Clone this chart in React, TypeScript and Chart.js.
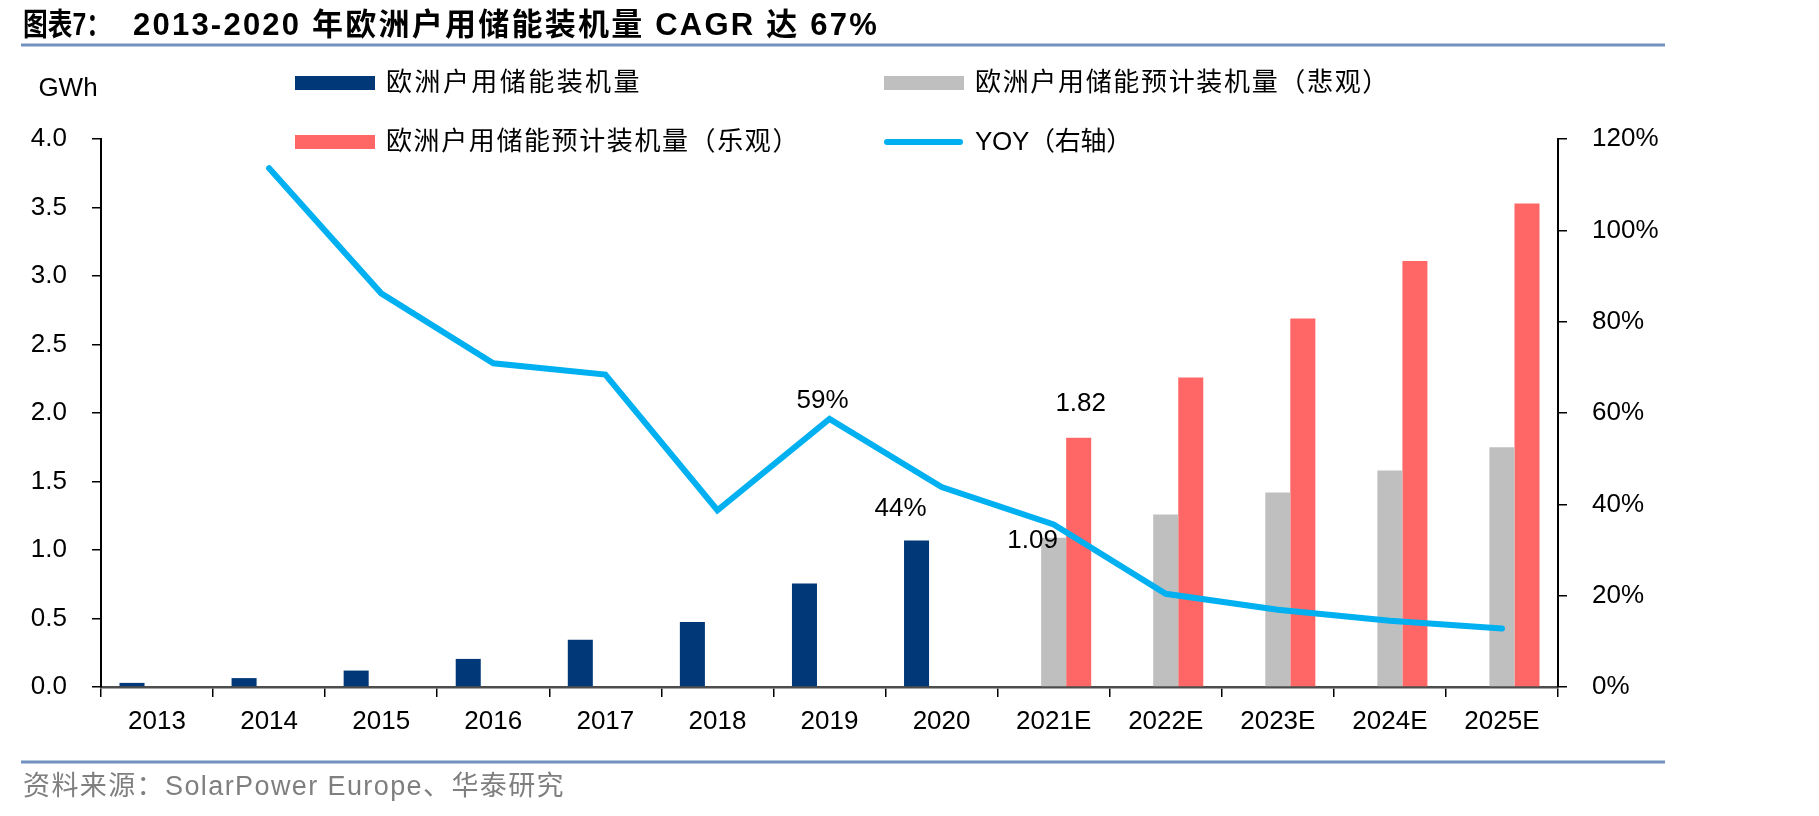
import React, { useEffect, useRef } from "react";
import { Chart, registerables } from "chart.js";

Chart.register(...registerables);

// ---- data ----
const categories = ["2013", "2014", "2015", "2016", "2017", "2018", "2019", "2020", "2021E", "2022E", "2023E", "2024E", "2025E"];
const installed = [0.03, 0.065, 0.12, 0.205, 0.345, 0.475, 0.755, 1.07, null, null, null, null, null];
const forecastPessimistic = [null, null, null, null, null, null, null, null, 1.09, 1.26, 1.42, 1.58, 1.75];
const forecastOptimistic = [null, null, null, null, null, null, null, null, 1.82, 2.26, 2.69, 3.11, 3.53];
const yoyPercent = [null, 113.6, 86.2, 70.9, 68.4, 38.7, 58.7, 43.8, 35.6, 20.4, 16.9, 14.5, 12.8];

const leftTicks = [0, 0.5, 1.0, 1.5, 2.0, 2.5, 3.0, 3.5, 4.0];
const rightTicks = [0, 20, 40, 60, 80, 100, 120];

const seriesNames = [
  "欧洲户用储能装机量",
  "欧洲户用储能预计装机量（悲观）",
  "欧洲户用储能预计装机量（乐观）",
  "YOY（右轴）",
];

const titlePrefix = "图表7：";
const titleText = "2013-2020 年欧洲户用储能装机量 CAGR 达 67%";
const sourceText = "资料来源：SolarPower Europe、华泰研究";
const leftUnit = "GWh";

const COLORS = {
  installed: "#003878",
  pessimistic: "#BFBFBF",
  optimistic: "#FF6666",
  yoy: "#00B0F0",
  rule: "#7391C0",
  source: "#7F7F7F",
};

const LATIN = "'Liberation Sans', Arial, sans-serif";
const MIXED = "'Liberation Sans', 'Noto Sans CJK SC', sans-serif";

// draw text stretched to a given width by adjusting letter spacing
function fitText(ctx: CanvasRenderingContext2D, text: string, x: number, y: number, width: number) {
  (ctx as any).letterSpacing = "0px";
  const w = ctx.measureText(text).width;
  const n = Array.from(text).length;
  const sp = n > 1 ? (width - w) / n : 0;
  (ctx as any).letterSpacing = `${sp}px`;
  ctx.fillText(text, x, y);
  (ctx as any).letterSpacing = "0px";
}

// draw text horizontally condensed to a given width
function squeezeText(ctx: CanvasRenderingContext2D, text: string, x: number, y: number, width: number) {
  const w = ctx.measureText(text).width;
  ctx.save();
  ctx.translate(x, y);
  ctx.scale(Math.min(1, width / w), 1);
  ctx.fillText(text, 0, 0);
  ctx.restore();
}

const decorPlugin = {
  id: "decor",
  beforeDraw(chart: any) {
    const ctx = chart.ctx;
    ctx.save();
    ctx.fillStyle = "#ffffff";
    ctx.fillRect(0, 0, chart.width, chart.height);
    ctx.restore();
  },
  afterDatasetsDraw(chart: any) {
    const ctx = chart.ctx;
    ctx.save();
    ctx.font = `26px ${LATIN}`;
    ctx.fillStyle = "#000";
    ctx.textAlign = "center";
    ctx.textBaseline = "middle";
    const lineMeta = chart.getDatasetMeta(3);
    const grayMeta = chart.getDatasetMeta(1);
    const redMeta = chart.getDatasetMeta(2);
    // YOY labels for 2019 and 2020
    const p19 = lineMeta.data[6];
    ctx.fillText(`${Math.round(yoyPercent[6] as number)}%`, p19.x - 7, p19.y - 18);
    const p20 = lineMeta.data[7];
    ctx.fillText(`${Math.round(yoyPercent[7] as number)}%`, p20.x - 41, p20.y + 22);
    // 2021E forecast labels
    const g21 = grayMeta.data[8];
    ctx.fillText((forecastPessimistic[8] as number).toFixed(2), g21.x - 21, g21.y + 3);
    const r21 = redMeta.data[8];
    ctx.fillText((forecastOptimistic[8] as number).toFixed(2), r21.x + 2, r21.y - 34);
    ctx.restore();
  },
  afterDraw(chart: any) {
    const ctx = chart.ctx;
    ctx.save();

    // title
    ctx.fillStyle = "#000";
    ctx.textBaseline = "alphabetic";
    ctx.textAlign = "left";
    ctx.font = `bold 31px ${MIXED}`;
    squeezeText(ctx, titlePrefix, 23, 35, 88);
    fitText(ctx, titleText, 133, 35, 746);

    // rules
    ctx.strokeStyle = COLORS.rule;
    ctx.lineWidth = 3;
    ctx.beginPath();
    ctx.moveTo(21, 45);
    ctx.lineTo(1665, 45);
    ctx.moveTo(21, 762);
    ctx.lineTo(1665, 762);
    ctx.stroke();

    // source
    ctx.fillStyle = COLORS.source;
    ctx.font = `27px ${MIXED}`;
    ctx.textBaseline = "middle";
    fitText(ctx, sourceText, 23, 788, 542);

    // unit
    ctx.fillStyle = "#000";
    ctx.font = `26px ${LATIN}`;
    ctx.textAlign = "center";
    ctx.fillText(leftUnit, 68, 89);

    // legend
    ctx.textAlign = "left";
    ctx.font = `26px ${MIXED}`;
    const ds = chart.data.datasets;
    const slots = [
      { i: 0, x: 295, y: 83 },
      { i: 1, x: 884, y: 83 },
      { i: 2, x: 295, y: 142 },
      { i: 3, x: 884, y: 142 },
    ];
    const textWidths = [256, 415, 414, 157];
    slots.forEach((s, k) => {
      const d = ds[s.i];
      if (d.type === "line") {
        ctx.strokeStyle = d.borderColor;
        ctx.lineWidth = 6;
        ctx.lineCap = "round";
        ctx.beginPath();
        ctx.moveTo(s.x + 3, s.y);
        ctx.lineTo(s.x + 76, s.y);
        ctx.stroke();
      } else {
        ctx.fillStyle = d.backgroundColor;
        ctx.fillRect(s.x, s.y - 7, 80, 14);
      }
      ctx.fillStyle = "#000";
      fitText(ctx, d.label, s.x + 91, s.y + 1, textWidths[k]);
    });

    ctx.restore();
  },
};

export default function App() {
  const ref = useRef<HTMLCanvasElement | null>(null);

  useEffect(() => {
    if (!ref.current) return;
    const chart = new Chart(ref.current, {
      type: "bar",
      data: {
        labels: categories,
        datasets: [
          {
            type: "bar",
            label: seriesNames[0],
            data: installed,
            backgroundColor: COLORS.installed,
            yAxisID: "y",
            order: 1,
          },
          {
            type: "bar",
            label: seriesNames[1],
            data: forecastPessimistic,
            backgroundColor: COLORS.pessimistic,
            yAxisID: "y",
            order: 1,
          },
          {
            type: "bar",
            label: seriesNames[2],
            data: forecastOptimistic,
            backgroundColor: COLORS.optimistic,
            yAxisID: "y",
            order: 1,
          },
          {
            type: "line",
            label: seriesNames[3],
            data: yoyPercent,
            borderColor: COLORS.yoy,
            backgroundColor: COLORS.yoy,
            borderWidth: 6,
            pointRadius: 0,
            tension: 0,
            borderCapStyle: "round",
            borderJoinStyle: "miter",
            yAxisID: "y1",
            order: 0,
          } as any,
        ],
      },
      options: {
        responsive: false,
        animation: false,
        devicePixelRatio: 1,
        datasets: {
          bar: { categoryPercentage: 0.67, barPercentage: 1.0 },
        },
        layout: { padding: { top: 139, left: 0, right: 0, bottom: 0 } },
        plugins: {
          legend: { display: false },
          title: { display: false },
          tooltip: { enabled: false },
        },
        scales: {
          x: {
            offset: true,
            grid: {
              display: true,
              offset: true,
              drawOnChartArea: false,
              drawTicks: true,
              tickLength: 10,
              color: "#000",
              lineWidth: 1.5,
            },
            border: { display: true, color: "#4D4D4D", width: 2.5 },
            ticks: {
              font: { family: LATIN, size: 26 },
              color: "#000",
              padding: 9,
              maxRotation: 0,
              autoSkip: false,
            },
            afterFit: (s: any) => {
              s.height = 129;
            },
          },
          y: {
            position: "left",
            min: leftTicks[0],
            max: leftTicks[leftTicks.length - 1],
            afterBuildTicks: (s: any) => {
              s.ticks = leftTicks.map((v) => ({ value: v }));
            },
            ticks: {
              callback: (v: any) => Number(v).toFixed(1),
              font: { family: LATIN, size: 26 },
              color: "#000",
              padding: 25,
            },
            grid: {
              drawOnChartArea: false,
              drawTicks: true,
              tickLength: 9,
              color: "#000",
              lineWidth: 1.5,
            },
            border: { display: true, color: "#000", width: 2 },
            afterFit: (s: any) => {
              s.width = 101;
            },
          },
          y1: {
            position: "right",
            min: rightTicks[0],
            max: rightTicks[rightTicks.length - 1],
            afterBuildTicks: (s: any) => {
              s.ticks = rightTicks.map((v) => ({ value: v }));
            },
            ticks: {
              callback: (v: any) => `${v}%`,
              font: { family: LATIN, size: 26 },
              color: "#000",
              padding: 25,
            },
            grid: {
              drawOnChartArea: false,
              drawTicks: true,
              tickLength: 9,
              color: "#000",
              lineWidth: 1.5,
            },
            border: { display: true, color: "#000", width: 2 },
            afterFit: (s: any) => {
              s.width = 261;
            },
          },
        },
      },
      plugins: [decorPlugin],
    });
    return () => chart.destroy();
  }, []);

  return (
    <div style={{ position: "absolute", left: 0, top: 0, width: 1819, height: 816, background: "#fff" }}>
      <canvas ref={ref} width={1819} height={816} style={{ width: 1819, height: 816, display: "block" }} />
    </div>
  );
}
